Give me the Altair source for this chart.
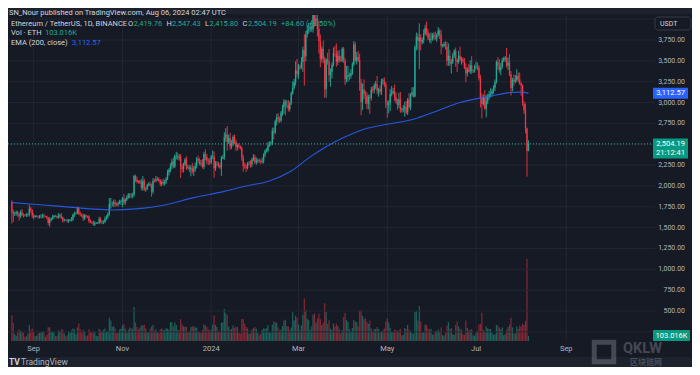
import altair as alt
import pandas as pd

# ---------------- data (ETH/USDT daily, Binance) ----------------
FIRST_OPEN = 1806.0

closes = [
    # Aug 17-31 2023
    1687, 1662, 1669, 1685, 1667, 1634, 1683, 1652, 1651, 1646, 1657, 1652, 1728, 1705, 1645,
    # Sep 2023
    1628, 1636, 1636, 1629, 1632, 1634, 1645, 1635, 1635, 1616, 1555, 1593, 1608, 1627, 1640,
    1635, 1622, 1640, 1645, 1622, 1585, 1594, 1593, 1580, 1588, 1594, 1597, 1653, 1668, 1671,
    # Oct 2023
    1733, 1663, 1656, 1647, 1611, 1647, 1634, 1633, 1579, 1567, 1565, 1538, 1553, 1555, 1557,
    1600, 1565, 1566, 1567, 1604, 1629, 1664, 1785, 1786, 1786, 1803, 1780, 1777, 1795, 1808, 1814,
    # Nov 2023
    1847, 1800, 1833, 1860, 1894, 1898, 1887, 1894, 2120, 2077, 2050, 2043, 2055, 1978, 2060,
    1960, 1962, 2012, 2022, 2010, 1930, 2063, 2062, 2081, 2083, 2063, 2027, 2048, 2029, 2052,
    # Dec 2023
    2087, 2165, 2193, 2243, 2294, 2232, 2358, 2358, 2342, 2352, 2225, 2202, 2260, 2316, 2220,
    2228, 2196, 2217, 2177, 2200, 2240, 2326, 2306, 2266, 2272, 2230, 2379, 2346, 2301, 2292, 2281,
    # Jan 2024
    2352, 2355, 2209, 2268, 2268, 2240, 2221, 2330, 2343, 2584, 2618, 2523, 2576, 2472, 2510,
    2587, 2529, 2467, 2489, 2469, 2454, 2342, 2240, 2236, 2218, 2267, 2268, 2257, 2317, 2343, 2283,
    # Feb 2024
    2302, 2309, 2297, 2290, 2300, 2373, 2420, 2423, 2488, 2503, 2508, 2660, 2641, 2777, 2823,
    2802, 2785, 2880, 2945, 3013, 2967, 2970, 2922, 2992, 3112, 3176, 3243, 3384, 3341,
    # Mar 2024
    3433, 3421, 3487, 3629, 3553, 3818, 3868, 3884, 3909, 3878, 4066, 3981, 4004, 3882, 3737,
    3523, 3644, 3520, 3158, 3517, 3492, 3330, 3370, 3452, 3590, 3589, 3489, 3561, 3510, 3505, 3645,
    # Apr 2024
    3505, 3280, 3310, 3330, 3317, 3350, 3455, 3697, 3505, 3545, 3505, 3240, 3008, 3157, 3102,
    3084, 2985, 3065, 3054, 3156, 3148, 3200, 3220, 3140, 3155, 3130, 3254, 3263, 3215, 3014,
    # May 2024
    2970, 2989, 3103, 3117, 3136, 3063, 3005, 2974, 3037, 2909, 2912, 2930, 2950, 2880, 3035,
    2946, 3092, 3124, 3072, 3664, 3790, 3737, 3780, 3727, 3749, 3826, 3892, 3840, 3768, 3748, 3760,
    # Jun 2024
    3814, 3781, 3767, 3811, 3865, 3812, 3680, 3682, 3706, 3667, 3500, 3560, 3468, 3482, 3565,
    3620, 3510, 3485, 3560, 3515, 3518, 3495, 3420, 3352, 3394, 3373, 3447, 3374, 3378, 3434,
    # Jul 2024
    3439, 3416, 3294, 3061, 2982, 3067, 2929, 3020, 3065, 3100, 3101, 3135, 3178, 3246, 3486,
    3443, 3388, 3426, 3506, 3518, 3536, 3440, 3481, 3337, 3174, 3275, 3250, 3270, 3319, 3280, 3232,
    # Aug 1-6 2024
    3203, 2987, 2905, 2690, 2419.76, 2504.19,
]

wick_up = [
    22, 30, 22, 18, 20, 15, 25, 40, 18, 12, 18, 15, 45, 20, 15,
    25, 15, 10, 12, 20, 25, 20, 22, 10, 8, 15, 30, 15, 25, 15,
    10, 10, 35, 20, 30, 10, 15, 8, 12, 15, 10, 30, 15, 25, 12,
    18, 12, 30, 15, 20, 15, 10, 10, 15, 20, 12, 20, 25, 10, 10,
    30, 25, 20, 20, 30, 20, 20, 70, 69, 25, 35, 30, 20, 20, 25, 20,
    20, 55, 20, 25, 20, 15, 15, 25, 15, 15, 35, 20, 15, 30, 60,
    25, 20, 15, 20, 30, 20, 30, 25, 40, 25, 20, 20, 20, 40, 20,
    20, 30, 20, 30, 30, 50, 20, 50, 40, 30, 30, 40, 20, 20, 40,
    30, 20, 30, 60, 40, 40, 20, 40, 30, 40, 50, 30, 60, 40, 30, 40,
    20, 70, 60, 30, 30, 20, 30, 30, 30, 60, 75, 100, 40, 60, 40,
    20, 30, 30, 20, 20, 20, 20, 30, 40, 30, 20, 30, 40, 20, 40, 30,
    40, 20, 20, 20, 40, 20, 20, 30, 40, 30, 30, 40, 40, 20, 40,
    50, 30, 20, 30, 30, 20, 60, 60, 20, 20, 80, 40, 110, 140,
    30, 20, 60, 40, 190, 40, 60, 70, 30, 80, 20, 90, 70, 60, 100,
    80, 30, 100, 30, 13, 80, 150, 40, 30, 70, 90, 120, 60, 70, 50, 20,
    20, 30, 130, 110, 30, 50, 30, 40, 30, 60, 75, 80, 45, 70, 120,
    40, 40, 30, 30, 30, 40, 30, 40, 100, 20, 50, 30, 30, 40, 30,
    6, 40, 60, 80, 40, 80, 60, 40, 80, 90, 30, 40, 60, 70, 20,
    80, 20, 60, 60, 20, 50, 40, 170, 40, 30, 50, 40, 80, 40, 60, 80,
    20, 30, 70, 20, 40, 20, 60, 20, 20, 30, 60, 150, 70, 40, 30,
    20, 40, 20, 60, 110, 30, 20, 40, 50, 30, 70, 60, 110, 20, 20,
    50, 40, 30, 40, 50, 30, 80, 70, 40, 40, 70, 30, 30, 30, 20,
    60, 80, 50, 30, 30, 20, 120, 60, 100, 40, 20, 60, 60, 80, 40, 80,
    13, 17, 28, 85, 10, 43.24,
]

wick_down = [
    137, 95, 22, 25, 35, 50, 20, 15, 30, 12, 18, 20, 20, 25, 30,
    30, 12, 10, 20, 22, 20, 20, 25, 8, 15, 25, 45, 20, 15, 20,
    10, 12, 15, 25, 20, 25, 15, 10, 18, 25, 15, 20, 20, 25, 15,
    10, 12, 20, 20, 30, 20, 15, 20, 25, 15, 20, 15, 20, 10, 12,
    15, 15, 20, 25, 15, 15, 20, 20, 55, 30, 40, 30, 20, 25, 15, 35,
    70, 30, 25, 15, 15, 40, 35, 35, 25, 30, 20, 15, 20, 30, 35,
    20, 30, 15, 15, 20, 60, 25, 20, 20, 20, 20, 30, 30, 20, 25,
    30, 15, 40, 30, 40, 20, 20, 40, 30, 40, 130, 40, 40, 20, 30,
    20, 30, 80, 30, 60, 30, 30, 30, 20, 30, 20, 30, 40, 40, 40, 30,
    20, 30, 110, 30, 30, 20, 20, 100, 10, 30, 50, 100, 20, 40, 30,
    30, 30, 50, 40, 20, 20, 40, 70, 30, 50, 20, 20, 40, 30, 20, 20,
    30, 30, 20, 30, 20, 30, 30, 20, 20, 20, 20, 20, 80, 20, 50,
    40, 30, 20, 40, 80, 120, 30, 30, 30, 20, 20, 20, 40, 40,
    60, 30, 20, 120, 350, 60, 40, 40, 40, 30, 40, 70, 60, 90, 150,
    100, 40, 50, 100, 100, 40, 80, 140, 80, 20, 40, 60, 40, 30, 20, 20,
    30, 70, 40, 60, 50, 30, 20, 20, 20, 50, 20, 100, 160, 100, 60,
    100, 65, 68, 190, 30, 30, 40, 40, 40, 70, 30, 40, 40, 30, 80,
    153, 100, 90, 30, 20, 40, 20, 60, 40, 30, 30, 30, 100, 20, 30,
    20, 40, 20, 10, 10, 40, 100, 337, 100, 30, 40, 20, 40, 20, 30, 40,
    20, 30, 20, 40, 20, 50, 100, 20, 20, 30, 60, 60, 30, 120, 20,
    30, 80, 120, 20, 20, 60, 20, 20, 110, 40, 10, 30, 30, 20, 20,
    30, 30, 30, 120, 172, 20, 20, 107, 40, 30, 40, 30, 30, 40, 20,
    50, 30, 60, 20, 20, 30, 20, 50, 20, 90, 40, 50, 20, 20, 40, 20,
    123, 27, 45, 60, 309, 3.96,
]

# volume in thousand ETH
volume_k = [
    530, 370, 150, 110, 190, 240, 210, 200, 170, 90, 100, 150, 330, 220, 260,
    200, 100, 110, 160, 170, 180, 190, 200, 90, 130, 290, 280, 200, 190, 180,
    100, 110, 220, 200, 240, 230, 160, 100, 120, 200, 170, 220, 260, 240, 140,
    280, 360, 240, 180, 230, 200, 100, 120, 240, 200, 170, 210, 180, 110, 100,
    250, 220, 200, 230, 260, 190, 210, 480, 420, 290, 310, 260, 160, 170, 240, 250,
    320, 350, 260, 170, 230, 280, 260, 250, 700, 380, 290, 240, 280, 330, 320,
    340, 260, 180, 170, 260, 300, 330, 210, 240, 180, 160, 240, 260, 230, 220,
    270, 250, 230, 390, 380, 300, 380, 330, 230, 220, 450, 340, 300, 290, 290,
    170, 200, 290, 300, 310, 280, 280, 200, 180, 170, 230, 340, 330, 290, 240, 210,
    230, 340, 530, 330, 290, 190, 210, 380, 380, 660, 570, 530, 300, 230, 250,
    320, 270, 300, 290, 170, 150, 460, 450, 360, 290, 260, 150, 160, 230, 260, 290,
    250, 170, 120, 150, 230, 260, 250, 260, 330, 180, 170, 340, 410, 380, 380,
    280, 220, 230, 310, 420, 440, 310, 300, 220, 280, 590, 430, 520, 480,
    340, 220, 320, 540, 880, 640, 460, 430, 230, 300, 540, 570, 380, 470, 560,
    450, 330, 380, 780, 600, 350, 430, 250, 220, 360, 300, 360, 310, 250, 160, 220,
    500, 580, 430, 390, 250, 200, 270, 440, 400, 390, 300, 620, 640, 520, 450,
    470, 390, 350, 420, 260, 190, 240, 250, 290, 250, 170, 200, 220, 260, 400,
    460, 380, 270, 200, 180, 240, 220, 200, 220, 250, 120, 130, 270, 240, 330,
    230, 210, 160, 150, 600, 620, 420, 720, 400, 170, 180, 340, 330, 260, 240, 250,
    130, 140, 200, 210, 230, 200, 280, 120, 110, 170, 320, 390, 240, 270, 140,
    130, 330, 400, 300, 250, 230, 140, 130, 420, 270, 220, 230, 240, 120, 110,
    170, 210, 340, 350, 580, 220, 210, 300, 260, 240, 250, 170, 130, 140, 330,
    320, 280, 240, 280, 120, 140, 230, 290, 340, 480, 280, 160, 150, 300, 240, 320,
    300, 360, 330, 420, 1690, 103.016,
]

ema_dates = [
    "2023-08-17", "2023-09-01", "2023-09-20", "2023-10-10", "2023-10-25", "2023-11-10",
    "2023-12-01", "2023-12-20", "2024-01-10", "2024-01-25", "2024-02-10", "2024-02-25",
    "2024-03-10", "2024-03-20", "2024-04-01", "2024-04-15", "2024-05-01", "2024-05-19",
    "2024-06-05", "2024-06-20", "2024-07-10", "2024-07-25", "2024-08-01", "2024-08-06",
]
ema_values = [
    1800, 1780, 1755, 1725, 1712, 1725, 1775, 1860, 1935, 2000, 2060, 2180,
    2360, 2470, 2580, 2680, 2740, 2800, 2905, 3000, 3075, 3120, 3125, 3112.57,
]

# grid lines at every level; labels where the price scale shows them
price_ticks = [250, 500, 750, 1000, 1250, 1500, 1750, 2000, 2250, 2500,
               2750, 3000, 3250, 3500, 3750, 4000]
price_labels = [500, 750, 1000, 1250, 1500, 1750, 2000, 2250,
                2750, 3000, 3250, 3500, 3750]
month_dates = ["2023-09-01", "2023-11-01", "2024-01-01", "2024-03-01",
               "2024-05-01", "2024-07-01", "2024-09-01"]
month_labels = ["Sep", "Nov", "2024", "Mar", "May", "Jul", "Sep"]

# ---------------- table ----------------
n = len(closes)
assert len(wick_up) == n and len(wick_down) == n and len(volume_k) == n
dates = pd.date_range("2023-08-17", periods=n, freq="D").strftime("%Y-%m-%d").tolist()
opens = [FIRST_OPEN] + closes[:-1]
opens[-1] = 2419.76
highs = [max(o, c) + u for o, c, u in zip(opens, closes, wick_up)]
lows = [min(o, c) - d for o, c, d in zip(opens, closes, wick_down)]
dirs = ["up" if c >= o else "down" for o, c in zip(opens, closes)]
candles = pd.DataFrame({"date": dates, "open": opens, "close": closes, "high": highs,
                        "low": lows, "vol": volume_k, "dir": dirs})
ema_df = pd.DataFrame({"date": ema_dates, "ema": ema_values})
last_df = pd.DataFrame({"p": [closes[-1]]})
ema_last_df = pd.DataFrame({"p": [ema_values[-1]]})
ticks_df = pd.DataFrame({"p": price_ticks})
labels_df = pd.DataFrame({"p": price_labels})
months_df = pd.DataFrame({"date": month_dates, "label": month_labels})
one = pd.DataFrame({"a": [0]})

# ---------------- style ----------------
FONT = "Roboto"
BG_PANE = "#161a25"
BG_FRAME = "#1e222d"
GRID = "#232633"
LABEL = "#b2b5be"
TEXT = "#d1d4dc"
UP = "#22ab94"
DOWN = "#f23645"
BLUE = "#2962ff"
BOX_GREEN = "#089981"

W, H = 647, 326

x_scale = alt.Scale(type="utc", domain=[
    alt.DateTime(year=2023, month=8, date=17, hours=19, utc=True),
    alt.DateTime(year=2024, month=10, date=28, hours=13, utc=True)])
y_scale = alt.Scale(domain=[140.2, 4049.9], nice=False, zero=False)
color = alt.Color("dir:N", scale=alt.Scale(domain=["up", "down"], range=[UP, DOWN]), legend=None)
X = alt.X("date:T", scale=x_scale, axis=None)


def Yp(field):
    return alt.Y(field, scale=y_scale, axis=None)


# ---------------- layers ----------------
volume = alt.Chart(candles).mark_bar(width=1.2, opacity=0.5).encode(
    x=X, y=alt.Y("vol:Q", scale=alt.Scale(domain=[0, 6716], nice=False), axis=None),
    color=color)

vgrid = alt.Chart(months_df).mark_rule(color=GRID, strokeWidth=1).encode(
    x=X, y=alt.value(0), y2=alt.value(H))
month_text = alt.Chart(months_df).mark_text(color=LABEL, font=FONT, fontSize=7.5,
                                            baseline="middle", align="center").encode(
    x=X, y=alt.value(H + 8), text="label:N")

hgrid = alt.Chart(ticks_df).mark_rule(color=GRID, strokeWidth=1).encode(
    y=Yp("p:Q"), x=alt.value(0), x2=alt.value(W))
price_text = alt.Chart(labels_df).mark_text(color=LABEL, font=FONT, fontSize=7,
                                            align="right", baseline="middle").encode(
    y=Yp("p:Q"), x=alt.value(677), text=alt.Text("p:Q", format=",.2f"))

wicks = alt.Chart(candles).mark_rule(strokeWidth=0.9, clip=True).encode(
    x=X, y=Yp("low:Q"), y2="high:Q", color=color)
bodies = alt.Chart(candles).mark_bar(width=1.3, clip=True).encode(
    x=X, y=Yp("open:Q"), y2="close:Q", color=color)
ema_line = alt.Chart(ema_df).mark_line(color=BLUE, strokeWidth=1.1, opacity=0.85,
                                       interpolate="monotone", clip=True).encode(
    x=X, y=Yp("ema:Q"))
last_line = alt.Chart(last_df).mark_rule(color=UP, strokeDash=[1, 2], strokeWidth=1).encode(
    y=Yp("p:Q"), x=alt.value(0), x2=alt.value(W))


def box(df, w, h, fill, dy=0):
    path = "M-1,{a}L1,{a}L1,{b}L-1,{b}Z".format(a=-h / w, b=h / w)
    return alt.Chart(df).mark_point(shape=path, size=w * w, filled=True, opacity=1,
                                    strokeWidth=0, color=fill, yOffset=dy).encode(
        x=alt.value(662.5), y=Yp("p:Q"))


def ptext(df, txt, dy=0):
    return alt.Chart(df).mark_text(text=txt, color="#ffffff", font=FONT, fontSize=7.5,
                                   align="center", baseline="middle", dy=dy).encode(
        x=alt.value(662.5), y=Yp("p:Q"))


price_group = alt.layer(
    hgrid, price_text, wicks, bodies, ema_line, last_line,
    box(ema_last_df, 35, 11, BLUE), ptext(ema_last_df, "3,112.57"),
    box(last_df, 35, 20, BOX_GREEN, 4.5), ptext(last_df, "2,504.19"),
    ptext(last_df, "21:12:41", 9.5),
)


def label(txt, px, py, col=TEXT, size=7.5, weight="normal", align="left", font=FONT, opacity=1):
    return alt.Chart(one).mark_text(text=txt, color=col, fontSize=size, fontWeight=weight,
                                    font=font, align=align, baseline="middle",
                                    opacity=opacity).encode(
        x=alt.value(px - 8), y=alt.value(py - 15))


def rect(x1, x2, y1, y2, fill, stroke=None, radius=0, opacity=1):
    kw = dict(color=fill, cornerRadius=radius, opacity=opacity)
    if stroke:
        kw.update(stroke=stroke, strokeWidth=1)
    return alt.Chart(one).mark_rect(**kw).encode(
        x=alt.value(x1 - 8), x2=alt.value(x2 - 8), y=alt.value(y1 - 15), y2=alt.value(y2 - 15))


frame = [
    rect(0, 700, 0, 14, BG_FRAME),
    rect(0, 700, 357, 380, BG_FRAME),
]

decor = [
    # header
    label("SN_Nour published on TradingView.com, Aug 06, 2024 02:47 UTC", 9, 12.5, TEXT),
    label("Ethereum / TetherUS, 1D, BINANCE", 11, 24, TEXT),
    label("O", 128, 24, TEXT), label("2,419.76", 133.5, 24, UP),
    label("H", 166.5, 24, TEXT), label("2,547.43", 172, 24, UP),
    label("L", 205, 24, TEXT), label("2,415.80", 209.5, 24, UP),
    label("C", 242.5, 24, TEXT), label("2,504.19", 248, 24, UP),
    label("+84.60 (+3.50%)", 281, 24, UP),
    label("Vol · ETH", 11, 33, TEXT), label("103.016K", 45, 33, UP),
    label("EMA (200, close)", 11, 43, TEXT), label("3,112.57", 72, 43, BLUE),
    # USDT box
    rect(655, 691, 17, 30, BG_PANE, stroke="#363a45", radius=3),
    label("USDT", 660, 23.5, TEXT, 7),
    # volume badge
    rect(653, 690, 330, 341, BOX_GREEN, radius=1),
    label("103.016K", 671.5, 335.5, "#ffffff", 7.5, align="center"),
    # watermark
    alt.Chart(one).mark_point(shape="square", filled=False, strokeWidth=5, size=380,
                              color="#9a9da6", opacity=0.35).encode(
        x=alt.value(604 - 8), y=alt.value(352 - 15)),
    label("QKLW", 623, 348.5, "#9a9da6", 14.5, "bold", opacity=0.35),
    label("区块链网", 630, 363, "#9a9da6", 8, "bold", font="Noto Sans CJK SC", opacity=0.35),
    # TradingView logo
    label("TV", 9, 362, TEXT, 8.5, "bold"),
    label("TradingView", 21, 362, LABEL, 8.5),
]

chart = alt.layer(*frame, vgrid, month_text, volume, price_group, *decor).resolve_scale(
    y="independent").properties(
    width=W, height=H,
    padding={"left": 0, "top": 7, "right": 37, "bottom": 26},
    autosize=alt.AutoSizeParams(type="none"),
    background=BG_PANE,
).configure_view(stroke=None)

chart.save("out.html", embed_options={"renderer": "svg", "actions": False})
